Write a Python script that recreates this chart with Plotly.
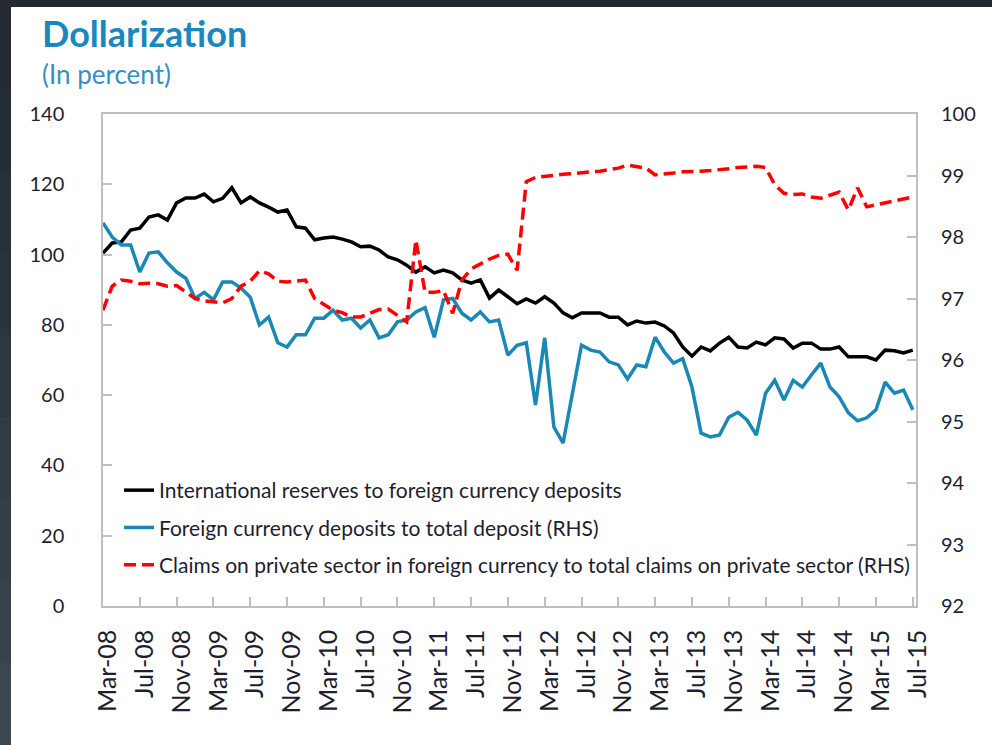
import plotly.graph_objects as go

# ---------------- data ----------------
months = ["Jan", "Feb", "Mar", "Apr", "May", "Jun", "Jul", "Aug", "Sep", "Oct", "Nov", "Dec"]
periods = []
for k in range(89):  # Mar-08 .. Jul-15, monthly
    m = (2 + k) % 12
    y = 8 + (2 + k) // 12
    periods.append(f"{months[m]}-{y:02d}")

reserves_to_fx_deposits = [
    100.4, 103.3, 103.6, 107.0, 107.5, 110.7, 111.3, 109.8, 114.7, 116.1,
    116.1, 117.2, 115.0, 116.0, 119.0, 114.7, 116.4, 114.7, 113.5, 112.1,
    112.7, 107.9, 107.5, 104.2, 104.7, 105.0, 104.4, 103.6, 102.2, 102.4,
    101.3, 99.3, 98.5, 97.0, 95.0, 96.5, 94.8, 95.6, 94.8, 92.8,
    91.9, 92.8, 87.6, 89.9, 88.0, 86.0, 87.4, 86.2, 88.0, 86.2,
    83.4, 82.0, 83.4, 83.4, 83.4, 82.2, 82.2, 80.0, 81.1, 80.5,
    80.8, 79.7, 77.7, 73.7, 71.1, 73.7, 72.6, 74.8, 76.5, 73.7,
    73.4, 75.1, 74.3, 76.3, 76.0, 73.4, 74.8, 74.8, 73.1, 73.1,
    73.7, 70.9, 70.9, 70.9, 70.0, 72.8, 72.6, 72.0, 72.8,
]

fx_deposits_to_total = [
    98.23, 98.00, 97.87, 97.87, 97.43, 97.74, 97.76, 97.58, 97.43, 97.33,
    97.00, 97.10, 96.98, 97.27, 97.27, 97.17, 97.02, 96.57, 96.70, 96.28,
    96.21, 96.41, 96.41, 96.68, 96.68, 96.81, 96.65, 96.68, 96.52, 96.65,
    96.36, 96.41, 96.62, 96.65, 96.78, 96.85, 96.37, 96.98, 97.00, 96.76,
    96.65, 96.78, 96.62, 96.65, 96.08, 96.24, 96.28, 95.27, 96.36, 94.91,
    94.65, 95.46, 96.24, 96.16, 96.13, 95.97, 95.92, 95.69, 95.92, 95.89,
    96.37, 96.13, 95.95, 96.02, 95.56, 94.81, 94.75, 94.78, 95.07, 95.15,
    95.02, 94.78, 95.46, 95.67, 95.35, 95.67, 95.56, 95.76, 95.95, 95.56,
    95.40, 95.14, 95.01, 95.06, 95.19, 95.64, 95.46, 95.51, 95.19,
]

fx_claims_to_total = [
    96.81, 97.20, 97.30, 97.28, 97.24, 97.25, 97.24, 97.20, 97.21, 97.10,
    97.00, 96.96, 96.94, 96.93, 97.00, 97.20, 97.28, 97.45, 97.40, 97.28,
    97.27, 97.29, 97.30, 97.00, 96.90, 96.81, 96.77, 96.70, 96.70, 96.76,
    96.82, 96.83, 96.72, 96.62, 97.95, 97.10, 97.10, 97.13, 96.76, 97.30,
    97.48, 97.56, 97.64, 97.70, 97.72, 97.46, 98.90, 98.97, 98.99, 99.00,
    99.02, 99.03, 99.05, 99.06, 99.07, 99.10, 99.12, 99.17, 99.14, 99.12,
    99.01, 99.02, 99.04, 99.06, 99.06, 99.07, 99.08, 99.09, 99.11, 99.13,
    99.14, 99.15, 99.13, 98.85, 98.71, 98.69, 98.70, 98.65, 98.63, 98.68,
    98.73, 98.44, 98.80, 98.49, 98.52, 98.55, 98.58, 98.61, 98.65,
]

series_names = [
    "International reserves to foreign currency deposits",
    "Foreign currency deposits to total deposit (RHS)",
    "Claims on private sector in foreign currency to total claims on private sector (RHS)",
]

tick_step = 4
x_idx = list(range(len(periods)))
tick_vals = x_idx[::tick_step]
tick_text = periods[::tick_step]

# ---------------- figure ----------------
FONT = "Lato"
AXIS_GRAY = "#bfbfbf"
TEXT_DARK = "#1e1e2e"

fig = go.Figure()
fig.add_trace(go.Scatter(x=x_idx, y=reserves_to_fx_deposits, name=series_names[0],
                         mode="lines", line=dict(color="#000000", width=3.5),
                         legendgroup="a", yaxis="y"))
fig.add_trace(go.Scatter(x=x_idx, y=fx_deposits_to_total, name=series_names[1],
                         mode="lines", line=dict(color="#1a88b4", width=3.5),
                         legendgroup="b", yaxis="y2"))
fig.add_trace(go.Scatter(x=x_idx, y=fx_claims_to_total, name=series_names[2],
                         mode="lines", line=dict(color="#ff0000", width=3.5, dash="12px,6px"),
                         legendgroup="c", yaxis="y2"))

L, R, T, B = 103, 916, 114, 606
W, H = 992, 745
pw, ph = R - L, B - T


def px(xp):
    return (xp - L) / pw


def py(yp):
    return (B - yp) / ph


shapes = []
# dark slide frame (top and left strips)
shapes.append(dict(type="rect", xref="paper", yref="paper", x0=px(0), x1=px(W), y0=py(7), y1=py(0),
                   fillcolor="#232a32", line=dict(width=0), layer="below"))
bands = ["#232a32", "#252d35", "#283038", "#2b333c", "#2e3740", "#313b44", "#343f48", "#37424c", "#3a4650"]
nb = len(bands)
for i, c in enumerate(bands):
    y0p = 7 + (H - 7) * i / nb
    y1p = 7 + (H - 7) * (i + 1) / nb
    shapes.append(dict(type="rect", xref="paper", yref="paper", x0=px(0), x1=px(11), y0=py(y1p), y1=py(y0p),
                       fillcolor=c, line=dict(width=0), layer="below"))

fig.update_layout(
    width=W, height=H,
    margin=dict(l=L, r=W - R, t=T, b=H - B, pad=0),
    paper_bgcolor="white", plot_bgcolor="white",
    font=dict(family=FONT, color=TEXT_DARK),
    showlegend=True,
    legend=dict(x=px(119), y=py(470), xanchor="left", yanchor="top",
                font=dict(family=FONT, size=21, color=TEXT_DARK),
                bgcolor="rgba(255,255,255,0)", traceorder="grouped", tracegroupgap=7,
                borderwidth=0),
    xaxis=dict(range=[0, 88.35], tickmode="array", tickvals=tick_vals, ticktext=tick_text,
               tickangle=-90, ticks="inside", ticklen=9, tickcolor=AXIS_GRAY, tickwidth=1.5,
               showline=True, linecolor=AXIS_GRAY, linewidth=1.5, mirror=True,
               showgrid=False, zeroline=False,
               tickfont=dict(family=FONT, size=25, color=TEXT_DARK),
               ticklabelstandoff=12, ticklabelshift=5),
    yaxis=dict(range=[0, 140], dtick=20, ticks="inside", ticklen=9, tickcolor=AXIS_GRAY, tickwidth=1.5,
               showline=True, linecolor=AXIS_GRAY, linewidth=1.5, mirror=True,
               showgrid=False, zeroline=False,
               tickfont=dict(family=FONT, size=20, color=TEXT_DARK), ticklabelstandoff=33),
    yaxis2=dict(range=[92, 100], dtick=1, overlaying="y", side="right",
                ticks="inside", ticklen=9, tickcolor=AXIS_GRAY, tickwidth=1.5,
                showline=False, showgrid=False, zeroline=False,
                tickfont=dict(family=FONT, size=20, color=TEXT_DARK), ticklabelstandoff=24),
    shapes=shapes,
    annotations=[
        dict(text="<b>Dollarization</b>", xref="paper", yref="paper", x=px(40), y=py(33),
             xanchor="left", yanchor="middle", showarrow=False,
             font=dict(family=FONT, size=36, color="#1a88bd")),
        dict(text="(In percent)", xref="paper", yref="paper", x=px(40), y=py(74),
             xanchor="left", yanchor="middle", showarrow=False,
             font=dict(family=FONT, size=26, color="#3a8fc2")),
    ],
)

fig.write_html("out.html", config={"displayModeBar": False},
               post_script="document.body.style.margin='0';")
